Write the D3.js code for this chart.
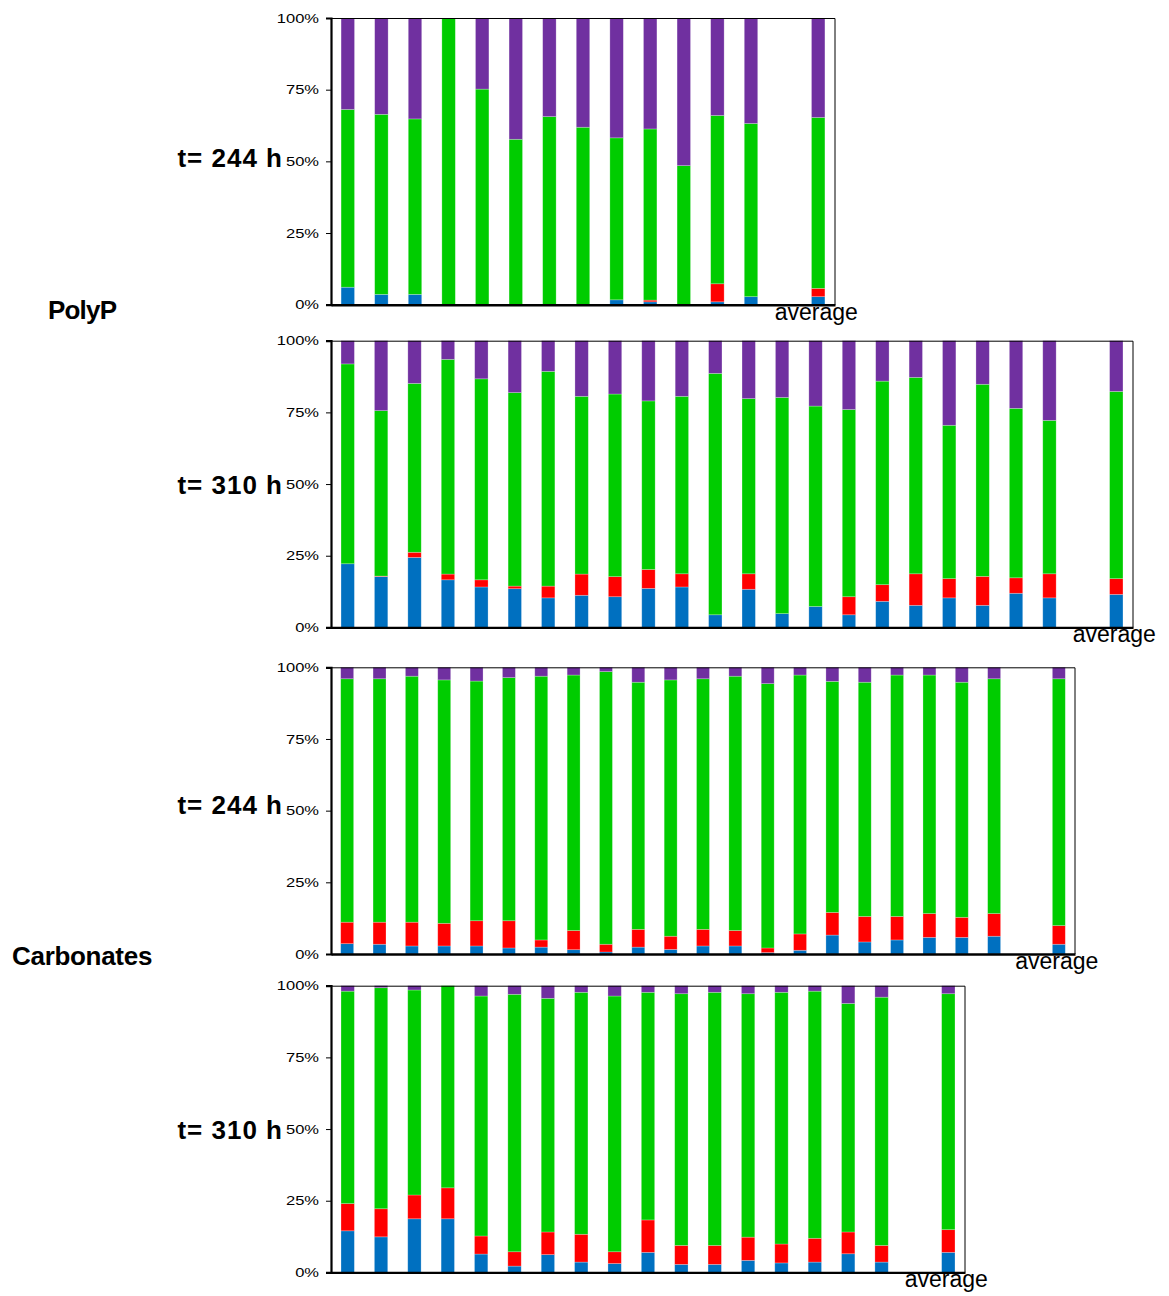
<!DOCTYPE html>
<html>
<head>
<meta charset="utf-8">
<script src="https://cdnjs.cloudflare.com/ajax/libs/d3/7.8.5/d3.min.js"></script>
<style>
  body { margin: 0; background: #fff; }
  svg { display: block; font-family: "Liberation Sans", Arial, sans-serif; }
</style>
</head>
<body>
<div id="chart"></div>
<script>
// segment order bottom -> top
const keys = ["blue", "red", "green", "purple"]
const colors = { blue: "#0070C0", red: "#FF0000", green: "#00CC00", purple: "#7030A0" }
const yTicks = [0, 25, 50, 75, 100]

// PolyP, t= 244 h (13 samples + average)
const p244Blue   = [6.1, 3.6, 3.6, 0, 0, 0, 0, 0, 1.7, 1.0, 0, 1.0, 2.8, 2.8]
const p244Red    = [0, 0, 0, 0, 0, 0, 0, 0, 0, 0.6, 0, 6.3, 0, 2.9]
const p244Green  = [62.0, 62.8, 61.2, 100, 75.2, 57.7, 65.6, 61.9, 56.5, 59.7, 48.5, 58.7, 60.4, 59.6]
const p244Purple = [31.9, 33.6, 35.2, 0, 24.8, 42.3, 34.4, 38.1, 41.8, 38.7, 51.5, 34.0, 36.8, 34.7]

// PolyP, t= 310 h (22 samples + average)
const p310Blue   = [22.2, 17.7, 24.4, 16.6, 14.1, 13.5, 10.3, 11.2, 10.7, 13.6, 14.1, 4.4, 13.3, 4.8, 7.3, 4.4, 9.1, 7.7, 10.3, 7.7, 11.9, 10.3, 11.5]
const p310Red    = [0, 0.2, 1.8, 2.0, 2.5, 0.9, 4.1, 7.4, 7.0, 6.6, 4.6, 0, 5.4, 0, 0, 6.3, 5.8, 11.0, 6.7, 10.1, 5.4, 8.4, 5.5]
const p310Green  = [69.7, 57.7, 58.9, 74.9, 70.1, 67.5, 74.9, 62.0, 63.7, 58.8, 61.9, 84.2, 61.1, 75.4, 69.9, 65.3, 71.0, 68.5, 53.5, 67.0, 59.1, 53.5, 65.3]
const p310Purple = [8.1, 24.4, 14.9, 6.5, 13.3, 18.1, 10.7, 19.4, 18.6, 21.0, 19.4, 11.4, 20.2, 19.8, 22.8, 24.0, 14.1, 12.8, 29.5, 15.2, 23.6, 27.8, 17.7]

// Carbonates, t= 244 h (21 samples + average)
const c244Blue   = [3.6, 3.4, 2.8, 2.8, 2.8, 2.1, 2.4, 1.5, 0.7, 2.4, 1.6, 2.8, 2.8, 0.5, 1.3, 6.6, 4.2, 4.9, 5.8, 5.8, 6.2, 3.4]
const c244Red    = [7.5, 7.7, 8.3, 7.9, 8.8, 9.5, 2.5, 6.7, 2.7, 6.2, 4.6, 5.8, 5.4, 1.6, 5.7, 7.9, 8.9, 8.2, 8.3, 7.0, 7.9, 6.5]
const c244Green  = [84.9, 84.9, 85.8, 84.9, 83.6, 84.8, 92.0, 89.1, 95.1, 86.2, 89.4, 87.4, 88.7, 92.2, 90.3, 80.6, 81.7, 84.2, 83.2, 82.0, 81.9, 86.1]
const c244Purple = [4.0, 4.0, 3.1, 4.4, 4.8, 3.6, 3.1, 2.7, 1.5, 5.2, 4.4, 4.0, 3.1, 5.7, 2.7, 4.9, 5.2, 2.7, 2.7, 5.2, 4.0, 4.0]

// Carbonates, t= 310 h (17 samples + average)
const c310Blue   = [14.5, 12.4, 18.7, 18.7, 6.4, 2.2, 6.2, 3.6, 3.1, 7.0, 2.8, 2.8, 4.2, 3.3, 3.6, 6.5, 3.6, 7.0]
const c310Red    = [9.5, 9.8, 8.3, 10.8, 6.3, 5.0, 7.9, 9.7, 4.1, 11.3, 6.6, 6.6, 8.1, 6.6, 8.3, 7.6, 5.8, 7.9]
const c310Green  = [74.1, 77.1, 71.5, 70.5, 83.7, 89.8, 81.5, 84.4, 89.2, 79.4, 87.8, 88.3, 84.9, 87.8, 86.2, 79.7, 86.6, 82.3]
const c310Purple = [1.9, 0.7, 1.5, 0, 3.6, 3.0, 4.4, 2.3, 3.6, 2.3, 2.8, 2.3, 2.8, 2.3, 1.9, 6.2, 4.0, 2.8]

const panels = [
  { time: "t= 244 h", top: 18,    width: 504, labelDy: 6,  series: [p244Blue, p244Red, p244Green, p244Purple] },
  { time: "t= 310 h", top: 340.7, width: 802, labelDy: 10, series: [p310Blue, p310Red, p310Green, p310Purple] },
  { time: "t= 244 h", top: 667.3, width: 744, labelDy: 3,  series: [c244Blue, c244Red, c244Green, c244Purple] },
  { time: "t= 310 h", top: 985.7, width: 634, labelDy: 10, series: [c310Blue, c310Red, c310Green, c310Purple] }
]

const left = 331
const plotH = 286.7

const svg = d3.select("#chart").append("svg")
  .attr("width", 1169)
  .attr("height", 1296)

panels.forEach(p => {
  const n = p.series[0].length - 1   // samples, last entry is the average
  const cats = d3.range(1, n + 1).map(String).concat(["", "average"])
  const rows = p.series[0].map((_, i) => {
    const r = { cat: i < n ? String(i + 1) : "average" }
    keys.forEach((k, j) => r[k] = p.series[j][i])
    return r
  })

  const x = d3.scaleBand().domain(cats).range([0, p.width]).paddingInner(0.6).paddingOuter(0.3)
  const y = d3.scaleLinear().domain([0, 100]).range([plotH, 0])

  const g = svg.append("g").attr("transform", `translate(${left},${p.top})`)

  const stacked = d3.stack().keys(keys)(rows)
  g.selectAll(".layer")
    .data(stacked)
    .join("g")
      .attr("class", "layer")
      .attr("fill", d => colors[d.key])
    .selectAll("rect")
    .data(d => d.filter(s => s[1] - s[0] > 0))
    .join("rect")
      .attr("x", d => x(d.data.cat))
      .attr("width", x.bandwidth())
      .attr("y", d => y(d[1]))
      .attr("height", d => y(d[0]) - y(d[1]))
      .attr("stroke", "#fff")
      .attr("stroke-opacity", 0.35)
      .attr("stroke-width", 0.7)

  // thin frame on top and right
  g.append("path")
    .attr("d", `M0,0.5H${p.width}V${plotH}`)
    .attr("fill", "none")
    .attr("stroke", "#000")
    .attr("stroke-width", 1)

  // y axis
  const yAxis = g.append("g")
    .call(d3.axisLeft(y).tickValues(yTicks).tickFormat(d => d + "%").tickSize(5).tickPadding(7))
  yAxis.select(".domain").attr("stroke-width", 2.2)
  yAxis.selectAll(".tick line").attr("stroke-width", 1)
  yAxis.selectAll(".tick text")
    .attr("font-size", 13)
    .attr("font-family", "Liberation Sans, Arial, sans-serif")
    .attr("fill", "#000")
    .each(function () {
      const w = this.getComputedTextLength()
      this.setAttribute("textLength", w * 1.27)
      this.setAttribute("lengthAdjust", "spacingAndGlyphs")
    })

  // x axis, only the "average" label
  const xAxis = g.append("g")
    .attr("transform", `translate(0,${plotH})`)
    .call(d3.axisBottom(x).tickValues(["average"]).tickSize(0).tickSizeOuter(0))
  xAxis.select(".domain").attr("stroke-width", 2.4)
  xAxis.selectAll(".tick text")
    .attr("font-size", 23)
    .attr("font-family", "Liberation Sans, Arial, sans-serif")
    .attr("fill", "#000")
    .attr("dx", -2)
    .attr("y", 15)
    .attr("dy", 0)

  // time label
  svg.append("text")
    .attr("x", 283)
    .attr("y", p.top + y(50) + p.labelDy)
    .attr("text-anchor", "end")
    .attr("font-size", 26)
    .attr("font-weight", "bold")
    .attr("letter-spacing", 1)
    .text(p.time)
})

// group labels
svg.append("text")
  .attr("x", 48).attr("y", 319)
  .attr("font-size", 26).attr("font-weight", "bold").attr("letter-spacing", -0.8)
  .text("PolyP")

svg.append("text")
  .attr("x", 12).attr("y", 965)
  .attr("font-size", 26).attr("font-weight", "bold").attr("letter-spacing", -0.3)
  .text("Carbonates")
</script>
</body>
</html>
